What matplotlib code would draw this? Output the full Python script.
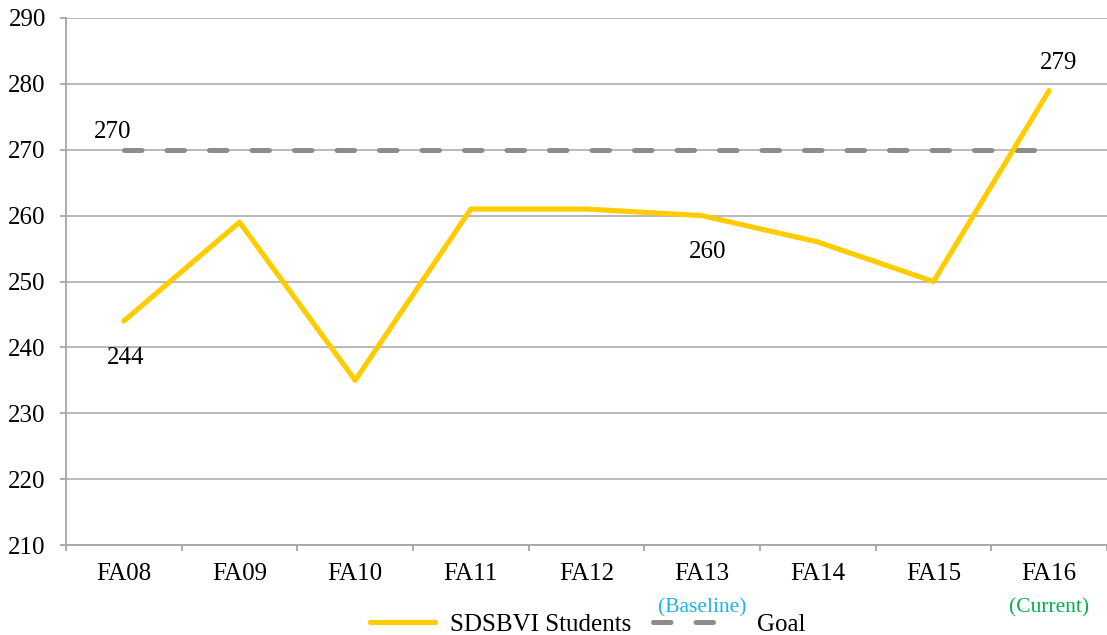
import numpy as np
import matplotlib.pyplot as plt
from matplotlib.lines import Line2D

plt.rcParams['font.family'] = ['Liberation Serif', 'DejaVu Serif']

terms = ["FA08", "FA09", "FA10", "FA11", "FA12", "FA13", "FA14", "FA15", "FA16"]
students = [244, 259, 235, 261, 261, 260, 256, 250, 279]
goal = [270, 270, 270, 270, 270, 270, 270, 270, 270]
yticks = [210, 220, 230, 240, 250, 260, 270, 280, 290]

x = np.arange(len(terms))
gray = "#8c8c8c"
yellow = "#FFCC00"
dash = (0, (3.5, 5.0))

fig = plt.figure(figsize=(11.07, 6.35), dpi=100)
ax = fig.add_axes([66 / 1107, 1 - 545 / 635, (1107 - 66) / 1107, (545 - 18) / 635])

ax.plot(x, students, color=yellow, lw=3.7, solid_capstyle="round", zorder=3)
ax.plot(x, goal, color=gray, lw=3.6, ls=dash, dash_capstyle="round", zorder=2)

ax.set_xlim(-0.5, len(terms) - 0.5)
ax.set_ylim(210, 290)
ax.set_yticks(yticks)
ax.yaxis.grid(True, color="#a6a6a6", lw=1.1)
ax.set_axisbelow(True)
for s in ["top", "right"]:
    ax.spines[s].set_visible(False)
for s in ["left", "bottom"]:
    ax.spines[s].set_color("#a6a6a6")
    ax.spines[s].set_linewidth(1.3)

ax.set_xticks(np.arange(len(terms) + 1) - 0.5)
ax.set_xticklabels([])
ax.set_xticks(x, minor=True)
ax.set_xticklabels(terms, minor=True)
ax.tick_params(axis="x", which="major", length=4.5, color="#a6a6a6", width=1.3)
ax.tick_params(axis="x", which="minor", length=0, pad=13, labelsize=18)
ax.tick_params(axis="y", length=4.5, color="#a6a6a6", width=1.3, labelsize=18, pad=10)

# data labels
ax.annotate("270", (x[0], goal[0]), xytext=(-8, 12.5), textcoords="offset points",
            ha="center", va="center", fontsize=18)
ax.annotate("244", (x[0], students[0]), xytext=(1, -26.5), textcoords="offset points",
            ha="center", va="center", fontsize=18)
ax.annotate("260", (x[5], students[5]), xytext=(4, -26), textcoords="offset points",
            ha="center", va="center", fontsize=18)
ax.annotate("279", (x[8], students[8]), xytext=(6.5, 20), textcoords="offset points",
            ha="center", va="center", fontsize=18)

# baseline / current notes under the tick labels
ax.annotate("(Baseline)", (x[5], 210), xytext=(0, -45), textcoords="offset points",
            ha="center", va="center", fontsize=15.5, color="#1CB4E6", annotation_clip=False)
ax.annotate("(Current)", (x[8], 210), xytext=(0, -45), textcoords="offset points",
            ha="center", va="center", fontsize=15.5, color="#00B050", annotation_clip=False)

h_students = Line2D([0], [0], color=yellow, lw=3.7, solid_capstyle="round")
h_goal = Line2D([0], [0], color=gray, lw=3.6, ls=dash, dash_capstyle="round")
leg1 = fig.legend([h_students], ["SDSBVI Students"], loc="center",
                  bbox_to_anchor=(0.452, 0.016), frameon=False, fontsize=18,
                  handlelength=2.6, handletextpad=0.6)
leg2 = fig.legend([h_goal], ["Goal"], loc="center",
                  bbox_to_anchor=(0.659, 0.016), frameon=False, fontsize=18,
                  handlelength=2.6, handletextpad=1.55)

fig.savefig("out.png", dpi=100)
